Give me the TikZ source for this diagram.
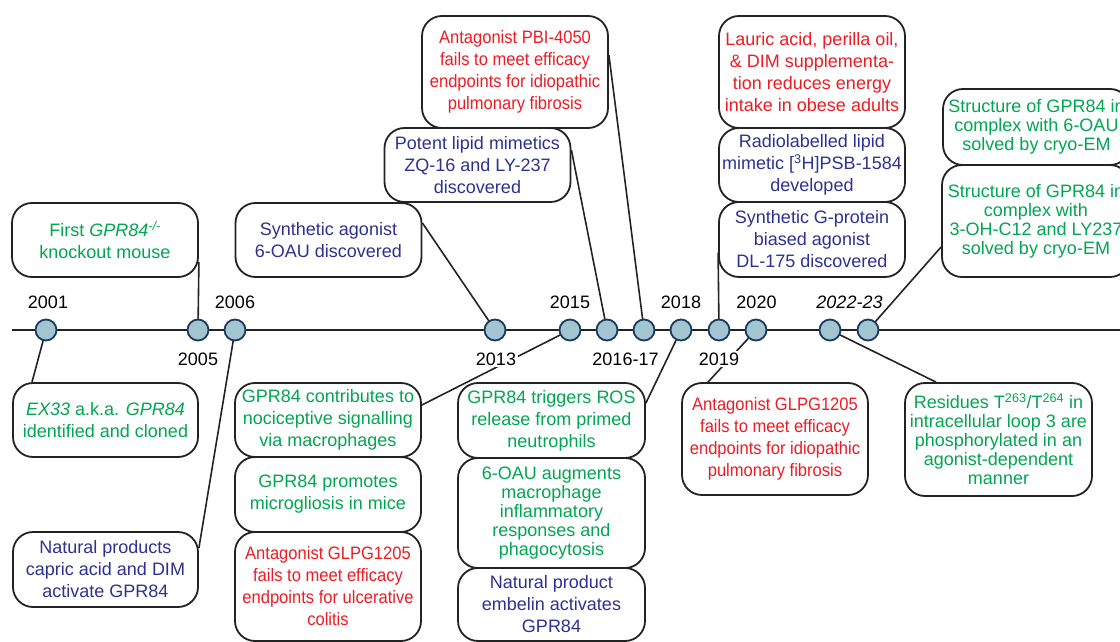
\documentclass[tikz,border=0pt]{standalone}
\usepackage{fontspec}
\setmainfont{Liberation Sans}
\newfontfamily\narrowfont{Liberation Sans}[FakeStretch=0.92]
\usetikzlibrary{calc}
\definecolor{tgreen}{RGB}{0,166,81}
\definecolor{tred}{RGB}{237,28,36}
\definecolor{tblue}{RGB}{46,49,146}
\definecolor{dotfill}{RGB}{163,196,209}
\definecolor{dotline}{RGB}{29,58,92}
\definecolor{boxline}{RGB}{35,35,35}
\begin{document}
\begin{tikzpicture}[x=1pt,y=-1pt,
  box/.style={draw=boxline, line width=1.8pt, rounded corners=20pt, fill=white,
    align=center, inner sep=0pt, minimum width=186pt, font=\fontsize{18}{22}\selectfont},
  tight/.style={font=\fontsize{18}{19}\selectfont},
  nrw/.style={font=\narrowfont\fontsize{18}{22}\selectfont},
  gr/.style={text=tgreen}, rd/.style={text=tred}, bl/.style={text=tblue},
  yr/.style={font=\fontsize{18}{20}\selectfont, fill=white, inner sep=1.5pt},
  dot/.style={circle, draw=dotline, fill=dotfill, line width=1.8pt, minimum size=21pt, inner sep=0pt},
  conn/.style={draw=boxline, line width=1.6pt},
]
\useasboundingbox (0,0) rectangle (1120,642);
\clip (0,0) rectangle (1120,642);

% timeline
\coordinate (tstart) at (12,330);
\coordinate (tend) at (1120,330);
\draw[conn] (tstart) -- (tend);

% circles (positions only, drawn later on top)
\path
  (46,330) coordinate (p2001)
  (198,330) coordinate (p2005)
  (235,330) coordinate (p2006)
  (495,330) coordinate (p2013)
  (570,330) coordinate (p2015)
  (607,330) coordinate (p2016a)
  (644,330) coordinate (p2016b)
  (681,330) coordinate (p2018)
  (719,330) coordinate (p2019)
  (756,330) coordinate (p2020)
  (830,330) coordinate (p2022a)
  (868,330) coordinate (p2022b);

% top boxes
\node[box,gr,minimum height=74pt] (a1) at (105,240) {First \textit{GPR84}\textsuperscript{\textit{-/-}}\\knockout mouse};
\node[box,bl,minimum height=74pt] (a2) at (328.5,240) {Synthetic agonist\\6-OAU discovered};
\node[box,bl,minimum height=74pt] (a3) at (477.5,165) {Potent lipid mimetics\\ZQ-16 and LY-237\\discovered};
\node[box,rd,nrw,minimum height=112pt] (a4) at (515,72) {Antagonist PBI-4050\\fails to meet efficacy\\endpoints for idiopathic\\pulmonary fibrosis};
\node[box,rd,minimum height=112pt] (a5) at (812,72) {Lauric acid, perilla oil,\\\& DIM supplementa-\\tion reduces energy\\intake in obese adults};
\node[box,bl,minimum height=74pt] (a6) at (812,165) {Radiolabelled lipid\\mimetic [\textsuperscript{3}H]PSB-1584\\developed};
\node[box,bl,minimum height=75pt] (a7) at (812,239.5) {Synthetic G-protein\\biased agonist\\DL-175 discovered};
\node[box,gr,tight,minimum height=76pt,minimum width=187pt] (a8) at (1036.5,127) {Structure of GPR84 in\\complex with 6-OAU\\solved by cryo-EM};
\node[box,gr,tight,minimum height=112pt,minimum width=188pt] (a9) at (1036,221) {Structure of GPR84 in\\complex with\\3-OH-C12 and LY237\\solved by cryo-EM};

% bottom boxes
\node[box,gr,minimum height=74pt,minimum width=185pt] (b1) at (105.5,420) {\textit{EX33} a.k.a. \textit{GPR84}\\identified and cloned};
\node[box,bl,minimum height=75pt,minimum width=185pt] (b2) at (105.5,569.5) {Natural products\\capric acid and DIM\\activate GPR84};
\node[box,gr,minimum height=74pt] (b3) at (328,420) {GPR84 contributes to\\nociceptive signalling\\via macrophages};
\node[box,gr,minimum height=75pt] (b4) at (328,494.5) {GPR84 promotes\\microgliosis in mice};
\node[box,rd,nrw,minimum height=109pt] (b5) at (328,586.5) {Antagonist GLPG1205\\fails to meet efficacy\\endpoints for ulcerative\\colitis};
\node[box,gr,minimum height=75pt,minimum width=187pt] (b6) at (551.5,420.5) {GPR84 triggers ROS\\release from primed\\neutrophils};
\node[box,gr,tight,minimum height=110pt,minimum width=187pt] (b7) at (551.5,513) {6-OAU augments\\macrophage\\inflammatory\\responses and\\phagocytosis};
\node[box,bl,minimum height=73pt,minimum width=187pt] (b8) at (551.5,604.5) {Natural product\\embelin activates\\GPR84};
\node[box,rd,nrw,minimum height=112pt] (b9) at (775,439) {Antagonist GLPG1205\\fails to meet efficacy\\endpoints for idiopathic\\pulmonary fibrosis};
\node[box,gr,tight,minimum height=113pt,minimum width=187pt] (b10) at (998.5,439.5) {Residues T\textsuperscript{263}/T\textsuperscript{264} in\\intracellular loop 3 are\\phosphorylated in an\\agonist-dependent\\manner};

% connectors (drawn on background of boxes)
\begin{scope}[on background layer/.try]
\end{scope}
\draw[conn] (p2001) -- ([xshift=-73.5pt]b1.north);
\draw[conn] (p2005) -- ([yshift=-22pt]a1.east);
\draw[conn] (p2006) -- ([yshift=21.5pt]b2.east);
\draw[conn] (p2013) -- ([yshift=17pt]a2.east);
\draw[conn] (p2015) -- ([yshift=15pt]b3.east);
\draw[conn] (p2016a) -- ([yshift=15pt]a3.east);
\draw[conn] (p2016b) -- ([yshift=17pt]a4.east);
\draw[conn] (p2018) -- ([yshift=17.5pt]b6.east);
\draw[conn] (p2019) -- ([yshift=-13pt]a7.west);
\draw[conn] (p2020) -- ([xshift=-67pt]b9.north);
\draw[conn] (p2022a) -- ([xshift=-62.5pt]b10.north);
\draw[conn] (p2022b) -- ([yshift=-26pt]a9.west);

% year labels
\node[yr] (y2001) at (48,302) {2001};
\node[yr] (y2005) at (198,359) {2005};
\node[yr] (y2006) at (235,302) {2006};
\node[yr] (y2013) at (496,359) {2013};
\node[yr] (y2015) at (570,302) {2015};
\node[yr] (y2016) at (625.5,359) {2016-17};
\node[yr] (y2018) at (681,302) {2018};
\node[yr] (y2019) at (719,359) {2019};
\node[yr] (y2020) at (756.5,302) {2020};
\node[yr] (y2022) at (849.5,302) {\textit{2022-23}};

% dots
\foreach \p in {2001,2005,2006,2013,2015,2016a,2016b,2018,2019,2020,2022a,2022b}
  \node[dot] (c\p) at (p\p) {};
\end{tikzpicture}
\end{document}
